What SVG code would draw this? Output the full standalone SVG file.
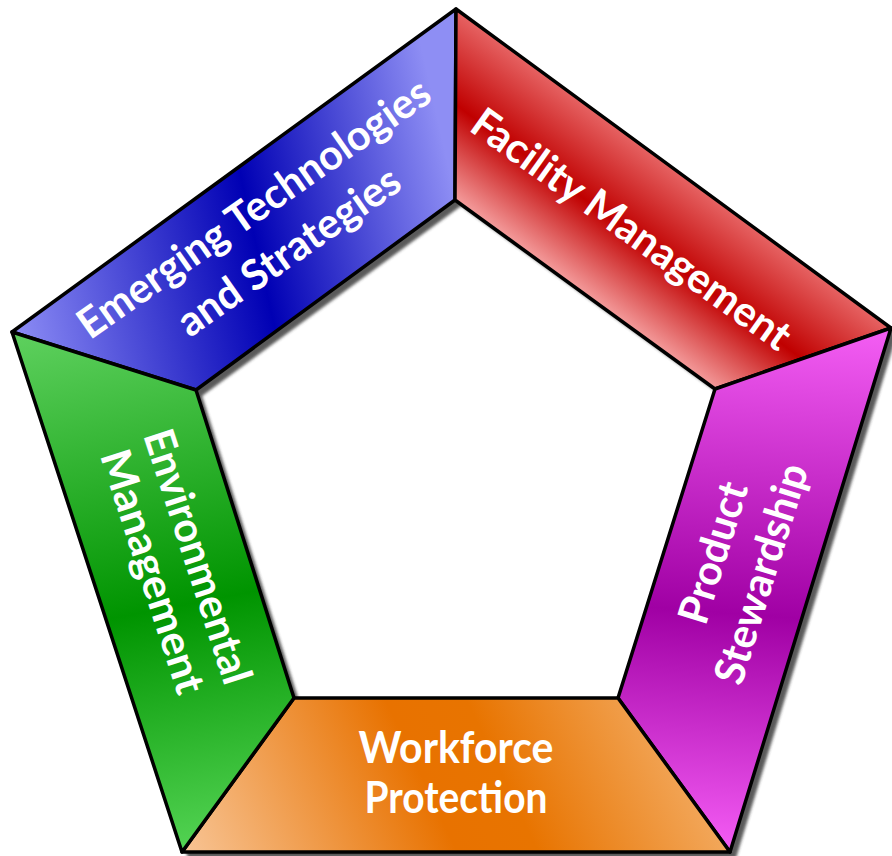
<svg xmlns="http://www.w3.org/2000/svg" width="892" height="856" viewBox="0 0 892 856">
<style>
.seg{stroke:#000;stroke-width:3.5;stroke-linejoin:round}
.lbl{fill:#fff;font-family:Lato,"Open Sans","DejaVu Sans",sans-serif;font-weight:700;font-size:42px;text-anchor:middle}
</style>
<defs>
<filter id="blur" x="-5%" y="-5%" width="110%" height="110%"><feGaussianBlur stdDeviation="1.5"/></filter>
<linearGradient id="gBlue" gradientUnits="userSpaceOnUse" x1="12" y1="300" x2="456" y2="200">
<stop offset="0" stop-color="#8a8af4"/><stop offset="0.55" stop-color="#0000b4"/><stop offset="1" stop-color="#8e8ef4"/>
</linearGradient>
<linearGradient id="gRed" gradientUnits="userSpaceOnUse" x1="585" y1="295" x2="676" y2="171">
<stop offset="0" stop-color="#f49c9c"/><stop offset="0.5" stop-color="#c00000"/><stop offset="1" stop-color="#e66262"/>
</linearGradient>
<linearGradient id="gMag" gradientUnits="userSpaceOnUse" x1="800" y1="330" x2="760" y2="852">
<stop offset="0" stop-color="#f25cf2"/><stop offset="0.55" stop-color="#a000a4"/><stop offset="1" stop-color="#f45cf4"/>
</linearGradient>
<linearGradient id="gOra" gradientUnits="userSpaceOnUse" x1="190" y1="880" x2="700" y2="640">
<stop offset="0" stop-color="#f8c698"/><stop offset="0.45" stop-color="#e87200"/><stop offset="0.58" stop-color="#e87400"/><stop offset="1" stop-color="#f6ba7c"/>
</linearGradient>
<linearGradient id="gGrn" gradientUnits="userSpaceOnUse" x1="60" y1="332" x2="160" y2="852">
<stop offset="0" stop-color="#5ccf5c"/><stop offset="0.55" stop-color="#009400"/><stop offset="1" stop-color="#52d252"/>
</linearGradient>
</defs>
<rect width="892" height="856" fill="#fff"/>
<path d="M456,9 L891,328 L730,852 L182,852 L12,332 Z M455,200 L196,390 L294,698 L618,698 L715,389 Z" fill="#333" fill-rule="evenodd" opacity="0.8" transform="translate(6,6)" filter="url(#blur)"/>
<g id="emerging">
<polygon class="seg" points="12,332 456,9 455,200 196,390" fill="url(#gBlue)"/>
<text class="lbl" transform="translate(262,220) rotate(-35)" textLength="420" lengthAdjust="spacingAndGlyphs">Emerging Technologies</text>
<text class="lbl" transform="translate(297,263) rotate(-35)" textLength="262" lengthAdjust="spacingAndGlyphs">and Strategies</text>
</g>
<g id="facility">
<polygon class="seg" points="456,9 891,328 715,389 455,200" fill="url(#gRed)"/>
<text class="lbl" transform="translate(623,241) rotate(35.6)" textLength="382" lengthAdjust="spacingAndGlyphs">Facility Management</text>
</g>
<g id="product">
<polygon class="seg" points="891,328 730,852 618,698 715,389" fill="url(#gMag)"/>
<text class="lbl" transform="translate(727,557) rotate(-72.8)" textLength="146" lengthAdjust="spacingAndGlyphs">Product</text>
<text class="lbl" transform="translate(775,578) rotate(-72.8)" textLength="228" lengthAdjust="spacingAndGlyphs">Stewardship</text>
</g>
<g id="workforce">
<polygon class="seg" points="730,852 182,852 294,698 618,698" fill="url(#gOra)"/>
<text class="lbl" x="456" y="763" style="font-size:44px" textLength="195" lengthAdjust="spacingAndGlyphs">Workforce</text>
<text class="lbl" x="456" y="813" style="font-size:44px" textLength="183" lengthAdjust="spacingAndGlyphs">Protection</text>
</g>
<g id="environmental">
<polygon class="seg" points="182,852 12,332 196,390 294,698" fill="url(#gGrn)"/>
<text class="lbl" transform="translate(184,561) rotate(72)" textLength="265" lengthAdjust="spacingAndGlyphs">Environmental</text>
<text class="lbl" transform="translate(139,576) rotate(72)" textLength="254" lengthAdjust="spacingAndGlyphs">Management</text>
</g>
<g id="connectors"></g>
</svg>
